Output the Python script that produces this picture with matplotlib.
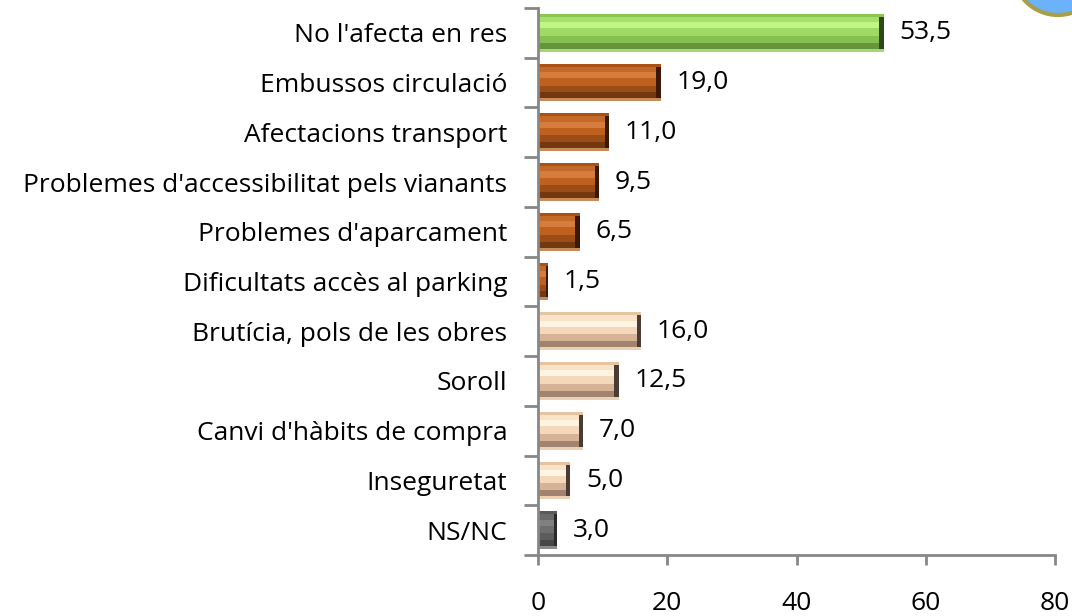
import numpy as np
import matplotlib.pyplot as plt
from matplotlib.patches import Ellipse
from matplotlib.ticker import FixedLocator

plt.rcParams['font.family'] = ['Open Sans', 'DejaVu Sans']

categories = ["No l'afecta en res", "Embussos circulació", "Afectacions transport",
              "Problemes d'accessibilitat pels vianants", "Problemes d'aparcament",
              "Dificultats accès al parking", "Brutícia, pols de les obres", "Soroll",
              "Canvi d'hàbits de compra", "Inseguretat", "NS/NC"]
values = [53.5, 19.0, 11.0, 9.5, 6.5, 1.5, 16.0, 12.5, 7.0, 5.0, 3.0]
groups = ['green', 'brown', 'brown', 'brown', 'brown', 'brown',
          'beige', 'beige', 'beige', 'beige', 'gray']
xticks = [0, 20, 40, 60, 80]

# bevel look: strips from bottom (0) to top (1), plus dark right edge
styles = {
    'green': ([(0.00, 0.08, '#a6d678'), (0.08, 0.24, '#66963c'), (0.24, 0.42, '#86c050'),
               (0.42, 0.62, '#a0da66'), (0.62, 0.78, '#c2f684'), (0.78, 0.92, '#a8e06e'),
               (0.92, 1.00, '#8cc652')], '#2e4818'),
    'brown': ([(0.00, 0.08, '#c88c5c'), (0.08, 0.24, '#743810'), (0.24, 0.42, '#9c4c16'),
               (0.42, 0.62, '#be601e'), (0.62, 0.78, '#d67c3c'), (0.78, 0.92, '#c46a28'),
               (0.92, 1.00, '#a85216')], '#3a1a06'),
    'beige': ([(0.00, 0.08, '#ecd0b4'), (0.08, 0.24, '#a08470'), (0.24, 0.42, '#d6b296'),
               (0.42, 0.62, '#f4d8bc'), (0.62, 0.78, '#fff4e2'), (0.78, 0.92, '#f8e2c8'),
               (0.92, 1.00, '#e6c4a2')], '#4a3c32'),
    'gray': ([(0.00, 0.08, '#8a8a8a'), (0.08, 0.24, '#474747'), (0.24, 0.42, '#5c5c5c'),
              (0.42, 0.62, '#6e6e6e'), (0.62, 0.78, '#808080'), (0.78, 0.92, '#6a6a6a'),
              (0.92, 1.00, '#5a5a5a')], '#2a2a2a'),
}

fig = plt.figure(figsize=(10.72, 6.16), dpi=100)
ax = fig.add_axes([538 / 1072, 1 - 555 / 616, (1055 - 538) / 1072, (555 - 8) / 616])

n = len(categories)
ypos = np.arange(n)[::-1]
h = 0.76
for y, v, g in zip(ypos, values, groups):
    strips, edge = styles[g]
    for a, b, c in strips:
        ax.barh(y - h / 2 + h * (a + b) / 2, v, height=h * (b - a), left=0, color=c, linewidth=0)
    ew = min(0.7, v * 0.2)
    ax.barh(y, ew, height=h * 0.84, left=v - ew, color=edge, linewidth=0)
    ax.text(v + 2.4, y, f"{v:.1f}".replace('.', ','), va='center', ha='left',
            fontsize=19, color='black')

ax.set_xlim(0, 80)
ax.set_ylim(-0.5, n - 0.5)
ax.set_xticks(xticks)
ax.set_xticklabels([str(t) for t in xticks])
ax.yaxis.set_major_locator(FixedLocator(np.arange(n + 1) - 0.5))
ax.set_yticklabels([])
ax.yaxis.set_minor_locator(FixedLocator(ypos))
ax.set_yticklabels(categories, minor=True)

for s in ['top', 'right']:
    ax.spines[s].set_visible(False)
for s in ['left', 'bottom']:
    ax.spines[s].set_color('#878787')
    ax.spines[s].set_linewidth(2)
ax.tick_params(axis='x', which='major', length=7, width=2, color='#878787',
               labelsize=19, pad=19)
ax.tick_params(axis='y', which='major', length=10, width=2, color='#878787')
ax.tick_params(axis='y', which='minor', length=0, labelsize=19, pad=22)

# piece of the round logo cut off at the corner
fig.patches.append(Ellipse((1058 / 1072, 1 + 30 / 616), 90 / 1072, 90 / 616,
                           transform=fig.transFigure, facecolor='#6cb2fa',
                           edgecolor='#a8a048', linewidth=3))

fig.savefig('out.png', dpi=100)
